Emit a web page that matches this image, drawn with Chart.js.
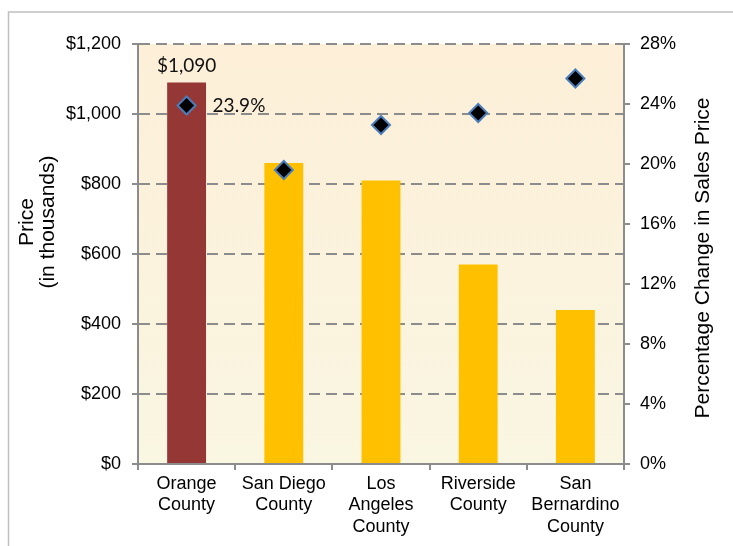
<!DOCTYPE html>
<html>
<head>
<meta charset="utf-8">
<script src="https://cdn.jsdelivr.net/npm/chart.js@4/dist/chart.umd.min.js"></script>
<style>
  html, body { margin: 0; padding: 0; background: #fff; }
  #wrap { width: 733px; height: 546px; position: relative; }
</style>
</head>
<body>
<div id="wrap"><canvas id="chart" width="733" height="546"></canvas></div>
<script>
// DATA
const categories = [
    ['Orange', 'County'],
    ['San Diego', 'County'],
    ['Los', 'Angeles', 'County'],
    ['Riverside', 'County'],
    ['San', 'Bernardino', 'County']
];
const prices = [1090, 860, 810, 570, 440];          // $ thousands
const pctChange = [23.9, 19.6, 22.6, 23.4, 25.7];   // % change in sales price
const barColors = ['#953735', '#FFC000', '#FFC000', '#FFC000', '#FFC000'];
const priceLabels = ['$1,090', null, null, null, null];
const pctLabels = ['23.9%', null, null, null, null];
const priceTicks = { max: 1200, step: 200 };
const pctTicks = { max: 28, step: 4 };

const FONT = "'Liberation Sans', Arial, sans-serif";
const GRID = '#8C8C8C';

Chart.defaults.font.family = FONT;
Chart.defaults.font.size = 18;
Chart.defaults.color = '#000';

// frame + plot background
const backdrop = {
    id: 'backdrop',
    beforeDraw(chart) {
        const { ctx, chartArea: a } = chart;
        ctx.save();
        ctx.strokeStyle = '#C0C0C0';
        ctx.lineWidth = 1.5;
        ctx.beginPath();
        ctx.moveTo(8.5, chart.height + 2);
        ctx.lineTo(8.5, 12);
        ctx.lineTo(chart.width + 2, 12);
        ctx.stroke();

        const g = ctx.createLinearGradient(0, a.top, 0, a.bottom);
        g.addColorStop(0, '#FDEFD8');
        g.addColorStop(1, '#F9F6E2');
        ctx.fillStyle = g;
        ctx.fillRect(a.left, a.top, a.right - a.left, a.bottom - a.top);
        ctx.restore();
    }
};

// axis titles (both read bottom-to-top)
const axisTitles = {
    id: 'axisTitles',
    afterDraw(chart) {
        const { ctx, chartArea: a } = chart;
        const mid = (a.top + a.bottom) / 2;
        ctx.save();
        ctx.font = '21px ' + FONT;
        ctx.fillStyle = '#000';
        ctx.textAlign = 'center';
        ctx.textBaseline = 'middle';

        ctx.save();
        ctx.translate(27, mid - 32);
        ctx.rotate(-Math.PI / 2);
        ctx.fillText('Price', 0, 0);
        ctx.fillText('(in thousands)', 0, 21);
        ctx.restore();

        ctx.save();
        ctx.translate(703, mid + 4);
        ctx.rotate(-Math.PI / 2);
        ctx.fillText('Percentage Change in Sales Price', 0, 0);
        ctx.restore();
        ctx.restore();
    }
};

// data labels
const dataLabels = {
    id: 'dataLabels',
    afterDatasetsDraw(chart) {
        const ctx = chart.ctx;
        ctx.save();
        ctx.font = "19px Lato, 'Open Sans', sans-serif";
        ctx.fillStyle = '#111';
        ctx.textBaseline = 'middle';

        const bars = chart.getDatasetMeta(0).data;
        ctx.textAlign = 'center';
        bars.forEach((el, i) => {
            if (priceLabels[i]) ctx.fillText(priceLabels[i], el.x, el.y - 17);
        });

        const pts = chart.getDatasetMeta(1).data;
        ctx.textAlign = 'left';
        pts.forEach((el, i) => {
            if (pctLabels[i]) ctx.fillText(pctLabels[i], el.x + 26, el.y);
        });
        ctx.restore();
    }
};

new Chart(document.getElementById('chart'), {
    data: {
        labels: categories,
        datasets: [
            {
                type: 'bar',
                data: prices,
                backgroundColor: barColors,
                barPercentage: 0.4,
                categoryPercentage: 1,
                yAxisID: 'y',
                order: 1
            },
            {
                type: 'line',
                data: pctChange,
                showLine: false,
                pointStyle: 'rectRot',
                pointRadius: 9,
                pointBackgroundColor: '#000',
                pointBorderColor: '#4A7EBB',
                pointBorderWidth: 2,
                yAxisID: 'y1',
                order: 0
            }
        ]
    },
    options: {
        responsive: false,
        animation: false,
        layout: { padding: { top: 44, left: 0, right: 0, bottom: 0 } },
        plugins: {
            legend: { display: false },
            tooltip: { enabled: false }
        },
        scales: {
            x: {
                afterFit: s => { s.height = 82; },
                grid: {
                    offset: true,
                    drawOnChartArea: false,
                    drawTicks: true,
                    tickLength: 6,
                    color: GRID,
                    lineWidth: 2
                },
                border: { color: GRID, width: 2 },
                ticks: { padding: 3, maxRotation: 0, autoSkip: false, font: { size: 18, lineHeight: 1.2 } }
            },
            y: {
                position: 'left',
                min: 0,
                max: priceTicks.max,
                afterFit: s => { s.width = 138; },
                ticks: {
                    stepSize: priceTicks.step,
                    padding: 11,
                    callback: v => '$' + v.toLocaleString('en-US')
                },
                grid: {
                    color: GRID,
                    lineWidth: 2,
                    drawTicks: true,
                    tickLength: 6,
                    tickColor: GRID,
                    tickWidth: 2,
                    tickBorderDash: []
                },
                border: { color: GRID, width: 2, dash: [11, 6] }
            },
            y1: {
                position: 'right',
                min: 0,
                max: pctTicks.max,
                afterFit: s => { s.width = 109; },
                ticks: {
                    stepSize: pctTicks.step,
                    padding: 10,
                    callback: v => v + '%'
                },
                grid: {
                    drawOnChartArea: false,
                    drawTicks: true,
                    tickLength: 6,
                    color: GRID,
                    lineWidth: 2
                },
                border: { color: GRID, width: 2 }
            }
        }
    },
    plugins: [backdrop, axisTitles, dataLabels]
});
</script>
</body>
</html>
